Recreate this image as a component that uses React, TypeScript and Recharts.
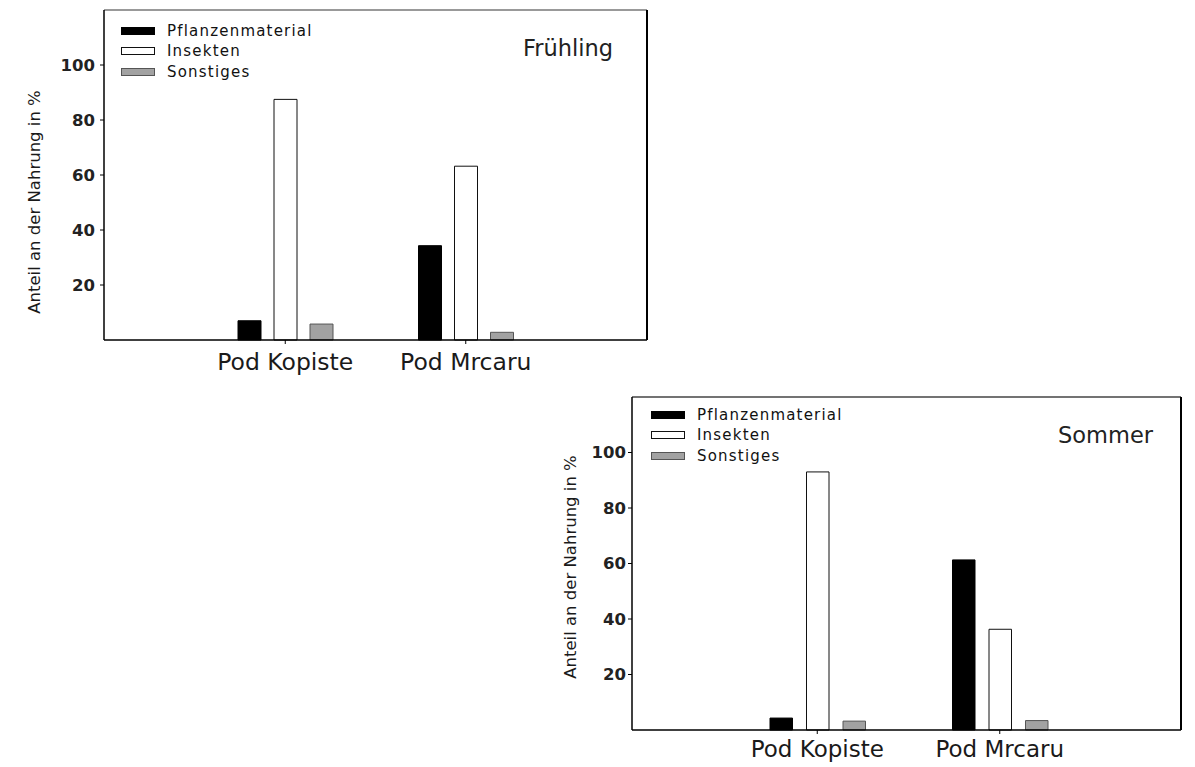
import React from 'react';
import { BarChart, Bar, XAxis, YAxis, Legend } from 'recharts';

const categories = ['Pod Kopiste', 'Pod Mrcaru'];
const seriesNames = ['Pflanzenmaterial', 'Insekten', 'Sonstiges'];
const springPlant = [7, 34.3];
const springInsects = [87.5, 63.2];
const springOther = [5.8, 2.8];
const summerPlant = [4.3, 61.3];
const summerInsects = [93, 36.3];
const summerOther = [3.2, 3.4];
const yTicks = [20, 40, 60, 80, 100];
const yMax = 120;
const yLabel = 'Anteil an der Nahrung in %';
const titles = ['Frühling', 'Sommer'];

const FONT = 'DejaVu Sans';

const buildRows = (a: number[], b: number[], c: number[]) =>
  categories.map((cat, i) => ({ cat, plant: a[i], insects: b[i], other: c[i] }));

const springRows = buildRows(springPlant, springInsects, springOther);
const summerRows = buildRows(summerPlant, summerInsects, summerOther);

const seriesStyle = [
  { key: 'plant', fill: '#000000', stroke: '#000000' },
  { key: 'insects', fill: '#ffffff', stroke: '#111111' },
  { key: 'other', fill: '#a2a2a2', stroke: '#555555' },
];

const renderLegend = (props: any) => {
  const payload = [...(props.payload || [])].sort(
    (a: any, b: any) => seriesNames.indexOf(a.value) - seriesNames.indexOf(b.value)
  );
  return (
    <div style={{ fontFamily: FONT, fontSize: 15, letterSpacing: 1.2, color: '#111' }}>
      {payload.map((p: any, i: number) => {
        const idx = seriesNames.indexOf(p.value);
        const st = seriesStyle[idx >= 0 ? idx : i];
        return (
          <div key={i} style={{ display: 'flex', alignItems: 'center', height: 20.5, whiteSpace: 'nowrap' }}>
            <span
              style={{
                display: 'inline-block',
                width: 34,
                height: 8,
                boxSizing: 'border-box',
                background: st.fill,
                border: `1.2px solid ${st.stroke}`,
                marginRight: 12,
              }}
            />
            <span>{p.value}</span>
          </div>
        );
      })}
    </div>
  );
};

type PanelProps = {
  rows: any[];
  title: string;
  left: number;
  top: number;
  width: number;
  height: number;
  margin: { top: number; right: number; bottom: number; left: number };
  yAxisWidth: number;
  xAxisHeight: number;
  padding: { left: number; right: number };
  barSize: number;
  barGap: number;
  tickMarginX: number;
  tickMarginY: number;
  catFontSize: number;
  labelPos: { x: number; y: number };
  titlePos: { x: number; y: number };
  legendPos: { left: number; top: number };
  topStroke: string;
};

function Panel(p: PanelProps) {
  const yLabelContent = () => (
    <text
      transform={`translate(${p.labelPos.x},${p.labelPos.y}) rotate(-90)`}
      textAnchor="middle"
      fontFamily={FONT}
      fontSize={16.5}
      fill="#1a1a1a"
    >
      {yLabel}
    </text>
  );
  return (
    <div style={{ position: 'absolute', left: p.left, top: p.top }}>
      <BarChart width={p.width} height={p.height} data={p.rows} margin={p.margin} barGap={p.barGap}>
        <XAxis
          dataKey="cat"
          height={p.xAxisHeight}
          padding={p.padding}
          axisLine={{ stroke: '#000', strokeWidth: 1.5 }}
          tickLine={{ stroke: '#000' }}
          tickSize={4}
          tickMargin={p.tickMarginX}
          tick={{ fontFamily: FONT, fontSize: p.catFontSize, fill: '#1a1a1a' }}
          interval={0}
        />
        <XAxis
          xAxisId="top"
          dataKey="cat"
          orientation="top"
          height={1}
          tick={false}
          tickLine={false}
          axisLine={{ stroke: p.topStroke, strokeWidth: 1.5 }}
        />
        <YAxis
          width={p.yAxisWidth}
          domain={[0, yMax]}
          ticks={yTicks}
          interval={0}
          axisLine={{ stroke: '#000', strokeWidth: 1.5 }}
          tickLine={{ stroke: '#000' }}
          tickSize={4}
          tickMargin={p.tickMarginY}
          tick={{ fontFamily: FONT, fontSize: 16.5, fontWeight: 'bold', fill: '#222' }}
          label={yLabelContent}
        />
        <YAxis
          yAxisId="right"
          orientation="right"
          width={1}
          domain={[0, yMax]}
          tick={false}
          tickLine={false}
          axisLine={{ stroke: '#000', strokeWidth: 2 }}
        />
        <Legend
          layout="vertical"
          align="center"
          verticalAlign="middle"
          content={renderLegend}
          wrapperStyle={{ left: p.legendPos.left, top: p.legendPos.top, width: 260, height: 65 }}
        />
        {seriesStyle.map((s, i) => (
          <Bar
            key={s.key}
            dataKey={s.key}
            name={seriesNames[i]}
            fill={s.fill}
            stroke={s.stroke}
            strokeWidth={1}
            barSize={p.barSize}
            isAnimationActive={false}
          />
        ))}
      </BarChart>
      <div
        style={{
          position: 'absolute',
          left: p.titlePos.x,
          top: p.titlePos.y,
          fontFamily: FONT,
          fontSize: 22.5,
          lineHeight: '23px',
          color: '#222',
          whiteSpace: 'nowrap',
        }}
      >
        {p.title}
      </div>
    </div>
  );
}

export default function App() {
  return (
    <div style={{ position: 'absolute', left: 0, top: 0, width: 1195, height: 767, background: '#fff', overflow: 'hidden' }}>
      <Panel
        rows={springRows}
        title={titles[0]}
        left={0}
        top={0}
        width={680}
        height={390}
        margin={{ top: 9, right: 32, bottom: 0, left: 0 }}
        yAxisWidth={104}
        xAxisHeight={50}
        padding={{ left: 91, right: 91 }}
        barSize={23}
        barGap={13}
        tickMarginX={9}
        tickMarginY={5}
        catFontSize={23.5}
        labelPos={{ x: 40, y: 202 }}
        titlePos={{ x: 523, y: 37 }}
        legendPos={{ left: 121, top: 20.5 }}
        topStroke="#777"
      />
      <Panel
        rows={summerRows}
        title={titles[1]}
        left={540}
        top={385}
        width={655}
        height={382}
        margin={{ top: 11, right: 13, bottom: 0, left: 0 }}
        yAxisWidth={92}
        xAxisHeight={37}
        padding={{ left: 94, right: 90 }}
        barSize={22.5}
        barGap={14}
        tickMarginX={7}
        tickMarginY={2}
        catFontSize={23}
        labelPos={{ x: 36, y: 182 }}
        titlePos={{ x: 518, y: 39 }}
        legendPos={{ left: 111, top: 19.5 }}
        topStroke="#444"
      />
    </div>
  );
}
